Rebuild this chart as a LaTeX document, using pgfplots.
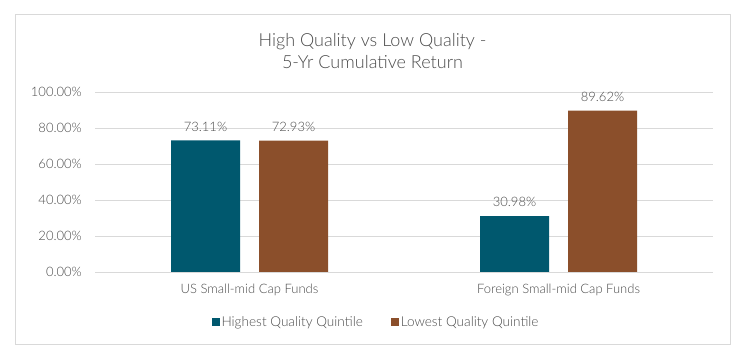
\documentclass[border=0pt]{standalone}
\usepackage{pgfplots}
\pgfplotsset{compat=1.18}
\usepackage{fontspec}
\setmainfont{Lato Light}
\definecolor{hq}{HTML}{00586E}
\definecolor{lq}{HTML}{8B4F2B}
\definecolor{txt}{HTML}{4A4A4A}
\definecolor{grid}{HTML}{D9D9D9}
\begin{document}
\begin{tikzpicture}
\path (0pt,0pt) rectangle (755pt,353pt);
\draw[color=grid, line width=0.8pt] (15pt,9pt) rectangle (730pt,339pt);
\node[text=txt, font=\fontsize{18}{22}\selectfont, align=center] at (372.5pt,302pt) {High Quality vs Low Quality -\\5-Yr Cumulative Return};
\begin{axis}[
  at={(95pt,81pt)}, anchor=south west,
  scale only axis, width=618pt, height=180pt,
  ybar=19pt, bar width=69pt,
  xmin=-0.5, xmax=1.5, ymin=0, ymax=100,
  xtick={0,1}, xticklabels={US Small-mid Cap Funds, Foreign Small-mid Cap Funds},
  ytick={0,20,40,60,80,100},
  yticklabel={\pgfmathprintnumber[fixed,fixed zerofill,precision=2,assume math mode=true]{\tick}\%},
  axis line style={draw=none},
  major tick length=0pt,
  ymajorgrids, grid style={color=grid, line width=0.8pt},
  tick label style={text=txt, font=\fontsize{13}{15}\selectfont},
  yticklabel style={anchor=east, inner sep=0pt, xshift=-13pt},
  xticklabel style={anchor=north, inner sep=0pt, yshift=-12pt},
  nodes near coords={\pgfmathprintnumber[fixed,fixed zerofill,precision=2,assume math mode=true]{\pgfplotspointmeta}\%},
  every node near coord/.append style={text=txt, font=\fontsize{13}{15}\selectfont, anchor=south, inner sep=0pt, yshift=9pt},
  legend style={at={(281pt,-50pt)}, anchor=center, draw=none, fill=none, legend columns=2,
    font=\fontsize{13.6}{15}\selectfont, text=txt,
    /tikz/every even column/.append style={column sep=26pt},
    /tikz/every odd column/.append style={inner xsep=1pt}},
  legend image code/.code={\fill[#1] (0pt,-4pt) rectangle (8pt,4pt);},
  legend cell align=left,
]
\addplot[fill=hq, draw=none] coordinates {(0,73.11) (1,30.98)};
\addplot[fill=lq, draw=none] coordinates {(0,72.93) (1,89.62)};
\legend{Highest Quality Quintile, Lowest Quality Quintile}
\end{axis}
\end{tikzpicture}
\end{document}
